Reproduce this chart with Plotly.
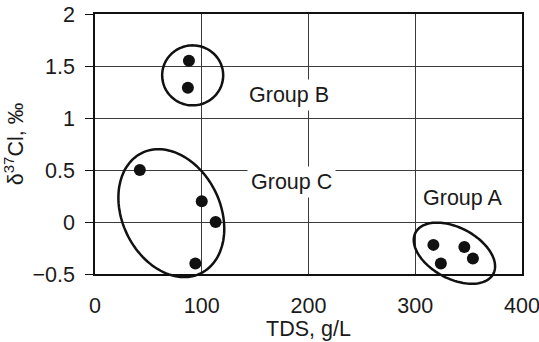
import numpy as np
import plotly.graph_objects as go

# Chlorine isotope data: total dissolved solids vs delta-37Cl
group_a_tds = [317, 324, 346, 354]
group_a_d37 = [-0.22, -0.40, -0.24, -0.35]
group_b_tds = [88, 87]
group_b_d37 = [1.55, 1.29]
group_c_tds = [42, 100, 113, 94]
group_c_d37 = [0.50, 0.20, 0.00, -0.40]

x_ticks = [0, 100, 200, 300, 400]
y_ticks = [-0.5, 0, 0.5, 1, 1.5, 2]
y_tick_text = ["\u22120.5", "0", "0.5", "1", "1.5", "2"]

W, H = 539, 342
M = dict(l=95, r=17, t=14, b=68)
XR = (0, 400)
YR = (-0.5, 2)
PW = W - M["l"] - M["r"]
PH = H - M["t"] - M["b"]

FONT = "Liberation Sans, Arial, sans-serif"
INK = "#1a1a1a"
FS = 21.5


def ellipse_path(cx, cy, a_px, b_px, angle_deg, n=120):
    """Closed ellipse path in paper units (so it may spill past the axes),
    centred on a data point, with semi-axes in pixels and a clockwise tilt."""
    t = np.linspace(0, 2 * np.pi, n)
    th = np.deg2rad(angle_deg)
    dx = a_px * np.cos(t) * np.cos(th) - b_px * np.sin(t) * np.sin(th)
    dy = a_px * np.cos(t) * np.sin(th) + b_px * np.sin(t) * np.cos(th)
    px0 = (cx - XR[0]) / (XR[1] - XR[0])
    py0 = (cy - YR[0]) / (YR[1] - YR[0])
    xs = px0 + dx / PW
    ys = py0 - dy / PH  # screen y grows downward
    pts = " L".join(f"{x:.4f},{y:.4f}" for x, y in zip(xs, ys))
    return "M" + pts + " Z"


fig = go.Figure()

all_x = group_a_tds + group_b_tds + group_c_tds
all_y = group_a_d37 + group_b_d37 + group_c_d37
fig.add_trace(go.Scatter(
    x=all_x, y=all_y, mode="markers",
    marker=dict(size=12, color="#111111"),
    showlegend=False, hoverinfo="x+y",
))

# group outlines: centre (data), semi-axes (px), tilt (deg, clockwise)
outlines = [
    (91.5, 1.41, 30.5, 30, 0),     # group B
    (71.5, 0.085, 67, 49, 64),     # group C
    (336.7, -0.30, 44, 25.5, 28),  # group A
]
shapes = [
    dict(type="path", xref="paper", yref="paper",
         path=ellipse_path(*o), line=dict(color="#111111", width=2.5))
    for o in outlines
]

labels = [("Group B", 181.5, 1.22), ("Group C", 184.5, 0.385), ("Group A", 344.5, 0.23)]
annotations = [
    dict(x=x, y=y, xref="x", yref="y", text=t, showarrow=False,
         bgcolor="white", borderpad=3,
         font=dict(family=FONT, size=FS, color=INK))
    for t, x, y in labels
]
# x-axis title
annotations.append(dict(
    x=0.5, y=-(329 - (M["t"] + PH)) / PH, xref="paper", yref="paper",
    text="TDS, g/L", showarrow=False, xanchor="center", yanchor="middle",
    borderpad=0,
    font=dict(family=FONT, size=FS, color=INK),
))

fig.update_layout(
    width=W, height=H, margin=M,
    paper_bgcolor="white", plot_bgcolor="white",
    font=dict(family=FONT, size=FS, color=INK),
    shapes=shapes, annotations=annotations,
)
fig.update_xaxes(
    range=list(XR), tickvals=x_ticks, ticks="", ticklabelstandoff=11,
    ticklabeloverflow="allow",
    showgrid=True, gridcolor="#3a3a3a", gridwidth=1.3,
    showline=True, linecolor="#111111", linewidth=1.5, mirror=True,
    zeroline=False, automargin=False,
)
fig.update_yaxes(
    range=list(YR), tickvals=y_ticks, ticktext=y_tick_text,
    ticks="outside", ticklen=8, tickcolor="#111111", ticklabelstandoff=6,
    showgrid=True, gridcolor="#3a3a3a", gridwidth=1.3,
    showline=True, linecolor="#111111", linewidth=1.5, mirror=True,
    zeroline=False, automargin=False,
    title=dict(text="\u03b4<sup>37</sup>Cl, \u2030", standoff=8, font=dict(size=FS)),
)

fig.write_html("out.html")
